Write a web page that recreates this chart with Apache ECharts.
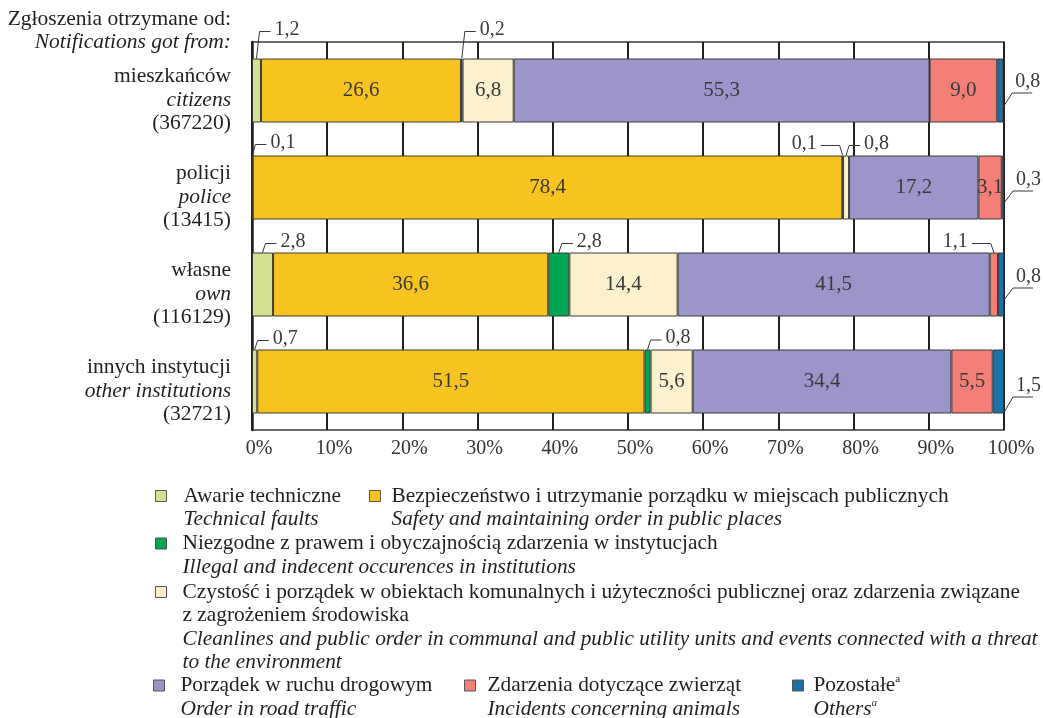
<!DOCTYPE html>
<html>
<head>
<meta charset="utf-8">
<script src="https://cdn.jsdelivr.net/npm/echarts@6/dist/echarts.min.js"></script>
<style>
html,body{margin:0;padding:0;background:#fff;}
#chart{width:1043px;height:718px;}
</style>
</head>
<body>
<div id="chart"></div>
<script>
// ---- data ----
const catPl = ['mieszkańców', 'policji', 'własne', 'innych instytucji'];
const catEn = ['citizens', 'police', 'own', 'other institutions'];
const catN = ['(367220)', '(13415)', '(116129)', '(32721)'];

const seriesPl = [
  'Awarie techniczne',
  'Bezpieczeństwo i utrzymanie porządku w miejscach publicznych',
  'Niezgodne z prawem i obyczajnością zdarzenia w instytucjach',
  'Czystość i porządek w obiektach komunalnych i użyteczności publicznej oraz zdarzenia związane z zagrożeniem środowiska',
  'Porządek w ruchu drogowym',
  'Zdarzenia dotyczące zwierząt',
  'Pozostałe'
];
const seriesEn = [
  'Technical faults',
  'Safety and maintaining order in public places',
  'Illegal and indecent occurences in institutions',
  'Cleanlines and public order in communal and public utility units and events connected with a threat to the environment',
  'Order in road traffic',
  'Incidents concerning animals',
  'Others'
];

const techFaults = [1.2, 0.1, 2.8, 0.7];
const safety     = [26.6, 78.4, 36.6, 51.5];
const illegal    = [0.2, 0.1, 2.8, 0.8];
const cleanlines = [6.8, 0.8, 14.4, 5.6];
const traffic    = [55.3, 17.2, 41.5, 34.4];
const animals    = [9.0, 3.1, 1.1, 5.5];
const others     = [0.8, 0.3, 0.8, 1.5];
const seriesValues = [techFaults, safety, illegal, cleanlines, traffic, animals, others];

const xTicks = [0, 10, 20, 30, 40, 50, 60, 70, 80, 90, 100];

// ---- styles / layout ----
const colors = ['#d3e190', '#f7c41f', '#00a651', '#fbf1cd', '#9b95c9', '#f47f77', '#1b70a6'];
const FONT = '"Liberation Serif", "Times New Roman", serif';
const TXT = '#231f20';
const VAL = '#3a3a3a';
const BAR_W = 64;
const FS = 21.5;
const FS_LEG = 21.35;
const LH = 23.5;

// callout annotations: which segment gets an outside label and how the leader goes
const callouts = [
  {s: 0, r: 0, dir: 'ur', rise: 27},
  {s: 2, r: 0, dir: 'ur', rise: 27},
  {s: 6, r: 0, dir: 'r', start: 16.5, line: 2.5},
  {s: 0, r: 1, dir: 'ur', rise: 11},
  {s: 2, r: 1, dir: 'ul', rise: 10},
  {s: 3, r: 1, dir: 'ur', rise: 10},
  {s: 6, r: 1, dir: 'r', start: 15.5, line: 3.5},
  {s: 0, r: 2, dir: 'ur', rise: 9},
  {s: 2, r: 2, dir: 'ur', rise: 9},
  {s: 5, r: 2, dir: 'ul', rise: 9},
  {s: 6, r: 2, dir: 'r', start: 15.5, line: 3.5},
  {s: 0, r: 3, dir: 'ur', rise: 9},
  {s: 2, r: 3, dir: 'ur', rise: 9.5},
  {s: 6, r: 3, dir: 'r', start: 31, line: 15.5}
];

const fmt = v => v.toFixed(1).replace('.', ',');

function segStart(s, r) {
  let t = 0;
  for (let k = 0; k < s; k++) t += seriesValues[k][r];
  return t;
}

const calloutData = callouts.map(c => {
  const v = seriesValues[c.s][c.r];
  const st = segStart(c.s, c.r);
  const xv = c.dir === 'r' ? st + v : st + v / 2;
  return {value: [xv, c.r, v]};
});

const chart = echarts.init(document.getElementById('chart'), null, {renderer: 'canvas'});

const barSeries = seriesPl.map((name, s) => ({
  name: name,
  type: 'bar',
  stack: 'total',
  barWidth: BAR_W,
  itemStyle: {color: colors[s], borderColor: '#3b3b3b', borderWidth: 1},
  label: {
    show: true,
    position: 'inside',
    color: VAL,
    fontFamily: FONT,
    fontSize: 21,
    formatter: p => (p.value >= 3 ? fmt(p.value) : '')
  },
  emphasis: {disabled: true},
  data: seriesValues[s].slice()
}));

const calloutSeries = {
  type: 'custom',
  coordinateSystem: 'cartesian2d',
  clip: false,
  z: 5,
  silent: true,
  encode: {x: 0, y: 1},
  data: calloutData,
  renderItem: function (params, api) {
    const c = callouts[params.dataIndex];
    const p = api.coord([api.value(0), api.value(1)]);
    const txt = fmt(api.value(2));
    const top = p[1] - BAR_W / 2;
    let pts, tx, ty, align;
    if (c.dir === 'ur') {
      const ly = top - c.rise;
      pts = [[p[0], top], [p[0] + 3, ly], [p[0] + 14, ly]];
      tx = p[0] + 18; ty = ly - 2; align = 'left';
    } else if (c.dir === 'ul') {
      const ly = top - c.rise;
      pts = [[p[0], top], [p[0] - 3, ly], [p[0] - 22, ly]];
      tx = p[0] - 26; ty = ly - 2; align = 'right';
    } else {
      const sy = p[1] + c.start;
      const ly = p[1] + c.line;
      pts = [[p[0], sy], [p[0] + 9, ly], [p[0] + 29, ly]];
      tx = p[0] + 24.5; ty = ly - 11; align = 'center';
    }
    return {
      type: 'group',
      children: [
        {type: 'polyline', shape: {points: pts}, style: {stroke: VAL, lineWidth: 1, fill: null}},
        {type: 'text', style: {text: txt, x: tx, y: ty, align: align, verticalAlign: 'middle',
          fontFamily: FONT, fontSize: 20, fill: VAL}}
      ]
    };
  }
};

// legends
const legendRich = {
  pl: {fontFamily: FONT, fontSize: FS_LEG, lineHeight: LH, color: TXT},
  en: {fontFamily: FONT, fontSize: FS_LEG, lineHeight: LH, color: TXT, fontStyle: 'italic'},
  sup: {fontFamily: FONT, fontSize: 11, color: TXT, verticalAlign: 'top', fontStyle: 'normal'},
  supi: {fontFamily: FONT, fontSize: 11, color: TXT, verticalAlign: 'top', fontStyle: 'italic'}
};
const legendText = [
  '\n{pl|Awarie techniczne}\n{en|Technical faults}',
  '\n{pl|Bezpieczeństwo i utrzymanie porządku w miejscach publicznych}\n{en|Safety and maintaining order in public places}',
  '\n{pl|Niezgodne z prawem i obyczajnością zdarzenia w instytucjach}\n{en|Illegal and indecent occurences in institutions}',
  '\n\n\n{pl|Czystość i porządek w obiektach komunalnych i użyteczności publicznej oraz zdarzenia związane}\n{pl|z zagrożeniem środowiska}\n{en|Cleanlines and public order in communal and public utility units and events connected with a threat}\n{en|to the environment}',
  '\n{pl|Porządek w ruchu drogowym}\n{en|Order in road traffic}',
  '\n{pl|Zdarzenia dotyczące zwierząt}\n{en|Incidents concerning animals}',
  '\n{pl|Pozostałe}{sup|a}\n{en|Others}{supi|a}'
];
// left = icon's left edge; w tunes the icon-to-text gap
const legendPos = [
  {left: 155, iconY: 496, w: 35, lines: 3},
  {left: 369, iconY: 496, w: 23, lines: 3},
  {left: 155, iconY: 543.5, w: 33, lines: 3},
  {left: 155, iconY: 592, w: 33, lines: 7},
  {left: 153, iconY: 685.5, w: 33, lines: 3},
  {left: 464, iconY: 685.5, w: 25, lines: 3},
  {left: 792, iconY: 685.5, w: 21, lines: 3}
];
const legends = seriesPl.map((name, s) => {
  const lp = legendPos[s];
  return {
    data: [name],
    left: lp.left,
    top: lp.iconY - lp.lines * LH / 2,
    orient: 'horizontal',
    padding: 0,
    itemWidth: lp.w,
    itemHeight: 11,
    icon: 'path://M0,0H10V10H0Z',
    symbolKeepAspect: true,
    selectedMode: false,
    itemStyle: {borderColor: '#555', borderWidth: 1},
    formatter: () => legendText[s],
    textStyle: {fontFamily: FONT, fontSize: FS_LEG, lineHeight: LH, color: TXT, rich: legendRich}
  };
});

const option = {
  animation: false,
  backgroundColor: '#ffffff',
  grid: {left: 252, right: 39, top: 42, bottom: 288, show: true, borderColor: '#3a3a3a', borderWidth: 1.5, backgroundColor: 'transparent'},
  graphic: [
    {type: 'text', x: 231, y: 19, style: {text: 'Zgłoszenia otrzymane od:', align: 'right', verticalAlign: 'middle', fontFamily: FONT, fontSize: FS, fill: TXT}},
    {type: 'text', x: 231, y: 42, style: {text: 'Notifications got from:', align: 'right', verticalAlign: 'middle', fontFamily: FONT, fontSize: FS, fontStyle: 'italic', fill: TXT}}
  ],
  xAxis: {
    type: 'value',
    min: xTicks[0],
    max: xTicks[xTicks.length - 1],
    interval: 10,
    axisLine: {show: false},
    axisTick: {show: false},
    splitLine: {show: true, lineStyle: {color: '#231f20', width: 2}},
    axisLabel: {
      show: true,
      showMinLabel: true,
      showMaxLabel: true,
      margin: 9,
      padding: [0, 0, 0, 14],
      fontFamily: FONT,
      fontSize: 20,
      color: '#333333',
      formatter: v => v + '%'
    }
  },
  yAxis: {
    type: 'category',
    inverse: true,
    data: catPl,
    axisLine: {show: true, lineStyle: {color: '#231f20', width: 2.5}},
    axisTick: {show: false},
    splitLine: {show: false},
    axisLabel: {
      margin: 21,
      padding: [19, 0, 0, 0],
      formatter: (v, i) => '{a|' + catPl[i] + '}\n{b|' + catEn[i] + '}\n{a|' + catN[i] + '}',
      rich: {
        a: {fontFamily: FONT, fontSize: FS, lineHeight: LH, color: TXT, align: 'right'},
        b: {fontFamily: FONT, fontSize: FS, lineHeight: LH, color: TXT, fontStyle: 'italic', align: 'right'}
      }
    }
  },
  legend: legends,
  series: barSeries.concat([calloutSeries])
};

chart.setOption(option);
</script>
</body>
</html>
